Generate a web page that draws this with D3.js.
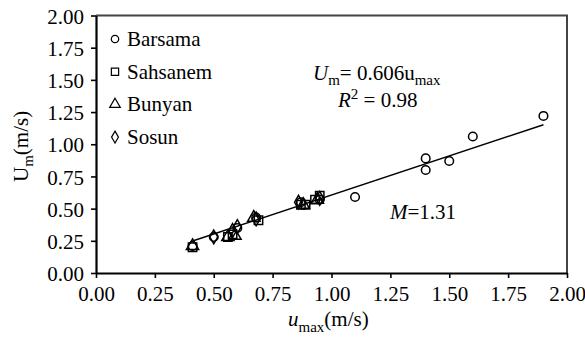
<!DOCTYPE html>
<html>
<head>
<meta charset="utf-8">
<script src="https://cdn.jsdelivr.net/npm/d3@7"></script>
</head>
<body style="margin:0; background:#fff">
<script>
// series (u_max, U_m)
const barsama = [[0.41, 0.21], [0.50, 0.28], [0.60, 0.35], [0.68, 0.43], [0.87, 0.55],
  [0.95, 0.57], [1.10, 0.59], [1.40, 0.80], [1.40, 0.89], [1.50, 0.87], [1.60, 1.06], [1.90, 1.22]];
const sahsanem = [[0.41, 0.20], [0.56, 0.28], [0.58, 0.30], [0.69, 0.41], [0.87, 0.53],
  [0.89, 0.53], [0.93, 0.57], [0.95, 0.60]];
const bunyan = [[0.41, 0.21], [0.56, 0.28], [0.59, 0.29], [0.67, 0.43], [0.88, 0.53], [0.94, 0.57]];
const sosun = [[0.50, 0.28], [0.58, 0.33], [0.60, 0.36], [0.68, 0.42], [0.86, 0.55], [0.95, 0.58]];
const seriesNames = ['Barsama', 'Sahsanem', 'Bunyan', 'Sosun'];
const tickValues = [0, 0.25, 0.5, 0.75, 1, 1.25, 1.5, 1.75, 2];
const slope = 0.606;
const fitRange = [0.41, 1.9];

const width = 585, height = 340;
const margin = {top: 15.5, right: 18, bottom: 67, left: 96};

const svg = d3.select('body').append('svg')
  .attr('width', width)
  .attr('height', height);

const x = d3.scaleLinear().domain([0, 2]).range([margin.left, width - margin.right]);
const y = d3.scaleLinear().domain([0, 2]).range([height - margin.bottom, margin.top]);

function label(sel) {
  return sel.style('font-family', '"Liberation Serif"').style('font-size', '21px').attr('fill', '#000');
}

// frame (top and right)
svg.append('path')
  .attr('d', 'M' + x(0) + ',' + y(2) + 'H' + x(2) + 'V' + y(0))
  .attr('fill', 'none')
  .attr('stroke', '#444')
  .attr('stroke-width', 2);

const xAxis = svg.append('g')
  .attr('transform', 'translate(0,' + y(0) + ')')
  .call(d3.axisBottom(x).tickValues(tickValues).tickFormat(d3.format('.2f'))
    .tickSize(5).tickSizeOuter(0).tickPadding(8));
const yAxis = svg.append('g')
  .attr('transform', 'translate(' + x(0) + ',0)')
  .call(d3.axisLeft(y).tickValues(tickValues).tickFormat(d3.format('.2f'))
    .tickSize(5).tickSizeOuter(0).tickPadding(7));

[xAxis, yAxis].forEach((g) => {
  g.attr('font-family', null).attr('font-size', null);
  g.select('.domain').attr('stroke', '#000').attr('stroke-width', 2.2);
  g.selectAll('.tick line').attr('stroke', '#000').attr('stroke-width', 1.6);
  label(g.selectAll('.tick text'));
});
yAxis.selectAll('.tick text').attr('dy', '0.36em');

// fitted line
svg.append('line')
  .attr('x1', x(fitRange[0])).attr('y1', y(slope * fitRange[0]))
  .attr('x2', x(fitRange[1])).attr('y2', y(slope * fitRange[1]))
  .attr('stroke', '#000')
  .attr('stroke-width', 1.4);

const symbols = [d3.symbolCircle, d3.symbolSquare, d3.symbolTriangle, d3.symbolDiamond];
const sizes = [58, 70, 65, 55];
const allSeries = [barsama, sahsanem, bunyan, sosun];

allSeries.forEach((data, i) => {
  svg.append('g').selectAll('path')
    .data(data)
    .join('path')
    .attr('transform', (d) => 'translate(' + x(d[0]) + ',' + y(d[1]) + ')')
    .attr('d', d3.symbol().type(symbols[i]).size(sizes[i]))
    .attr('fill', 'none')
    .attr('stroke', '#000')
    .attr('stroke-width', 1.5);
});

// legend
seriesNames.forEach((name, i) => {
  const ly = 39 + i * 32.7;
  svg.append('path')
    .attr('transform', 'translate(115,' + ly + ')')
    .attr('d', d3.symbol().type(symbols[i]).size(sizes[i] * 0.75))
    .attr('fill', 'none')
    .attr('stroke', '#000')
    .attr('stroke-width', 1.2);
  label(svg.append('text'))
    .attr('x', 127)
    .attr('y', ly + 7)
    .text(name);
});

// equation
const eq = label(svg.append('text')).attr('x', 313).attr('y', 80);
eq.append('tspan').style('font-style', 'italic').text('U');
eq.append('tspan').attr('dy', 5).style('font-size', '15px').text('m');
eq.append('tspan').attr('dy', -5).text('= 0.606u');
eq.append('tspan').attr('dy', 5).style('font-size', '15px').text('max');

const r2 = label(svg.append('text')).attr('x', 338).attr('y', 107);
r2.append('tspan').style('font-style', 'italic').text('R');
r2.append('tspan').attr('dy', -8).style('font-size', '15px').text('2');
r2.append('tspan').attr('dy', 8).text(' = 0.98');

const mText = label(svg.append('text')).attr('x', 390).attr('y', 219);
mText.append('tspan').style('font-style', 'italic').text('M');
mText.append('tspan').text('=1.31');

// axis titles
const xt = label(svg.append('text')).attr('x', 288).attr('y', 326);
xt.append('tspan').style('font-style', 'italic').text('u');
xt.append('tspan').attr('dy', 6).style('font-size', '15px').text('max');
xt.append('tspan').attr('dy', -6).text('(m/s)');

const yt = label(svg.append('text'))
  .attr('transform', 'translate(28,182) rotate(-90)');
yt.append('tspan').text('U');
yt.append('tspan').attr('dy', 5).style('font-size', '15px').text('m');
yt.append('tspan').attr('dy', -5).text('(m/s)');
</script>
</body>
</html>
